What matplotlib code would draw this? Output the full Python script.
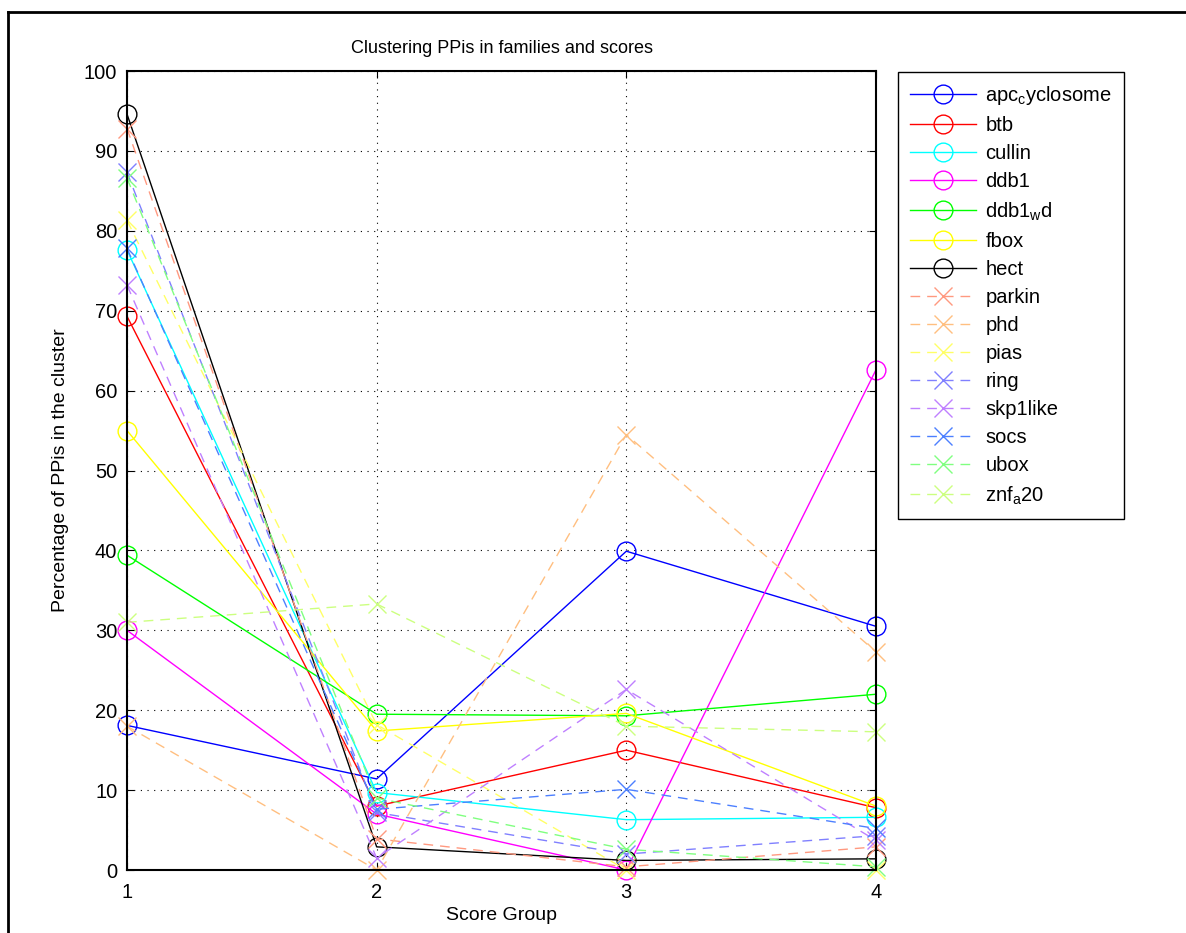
import numpy as np
import matplotlib.pyplot as plt
from matplotlib.lines import Line2D

plt.rcParams['font.family'] = ['Liberation Sans', 'DejaVu Sans']
plt.rcParams['mathtext.default'] = 'regular'

score_groups = [1, 2, 3, 4]

apc_cyclosome = [18.1, 11.4, 39.9, 30.5]
btb = [69.3, 8.0, 15.0, 7.8]
cullin = [77.6, 9.7, 6.3, 6.6]
ddb1 = [30.0, 7.0, 0.0, 62.6]
ddb1_wd = [39.4, 19.5, 19.3, 22.0]
fbox = [55.0, 17.4, 19.6, 8.0]
hect = [94.6, 2.9, 1.2, 1.4]
parkin = [92.8, 3.9, 0.4, 2.9]
phd = [18.0, 0.0, 54.5, 27.3]
pias = [81.3, 18.2, 0.0, 0.0]
ring = [87.3, 7.2, 2.0, 4.3]
skp1like = [73.2, 1.5, 22.6, 3.7]
socs = [77.8, 7.6, 10.1, 5.2]
ubox = [86.6, 9.0, 2.6, 0.4]
znf_a20 = [31.0, 33.3, 18.0, 17.3]

families = [
    ('apc$_c$yclosome', apc_cyclosome, '#0000ff', 'o', '-'),
    ('btb', btb, '#ff0000', 'o', '-'),
    ('cullin', cullin, '#00ffff', 'o', '-'),
    ('ddb1', ddb1, '#ff00ff', 'o', '-'),
    ('ddb1$_w$d', ddb1_wd, '#00ff00', 'o', '-'),
    ('fbox', fbox, '#ffff00', 'o', '-'),
    ('hect', hect, '#000000', 'o', '-'),
    ('parkin', parkin, '#ff9980', 'x', '--'),
    ('phd', phd, '#ffbf80', 'x', '--'),
    ('pias', pias, '#ffff66', 'x', '--'),
    ('ring', ring, '#8080ff', 'x', '--'),
    ('skp1like', skp1like, '#bf80ff', 'x', '--'),
    ('socs', socs, '#4d80ff', 'x', '--'),
    ('ubox', ubox, '#80ff80', 'x', '--'),
    ('znf$_a$20', znf_a20, '#ccff80', 'x', '--'),
]

fig = plt.figure(figsize=(11.86, 9.33), dpi=100)
ax = fig.add_axes([0.1071, 0.0675, 0.6315, 0.8564])

for name, vals, color, marker, ls in families:
    ax.plot(score_groups, vals, color=color, marker=marker, linestyle=ls,
            markersize=13.5, markerfacecolor='none', markeredgewidth=1.0,
            linewidth=1.0, dashes=(7, 5) if ls == '--' else (None, None),
            label=name, clip_on=False)

ax.set_xlim(1, 4)
ax.set_ylim(0, 100)
ax.set_xticks(score_groups)
ax.set_yticks(np.arange(0, 101, 10))
ax.tick_params(direction='in', top=True, right=True, labelsize=14.5, length=5)
ax.tick_params(axis='x', pad=9)
ax.tick_params(axis='y', pad=7)
ax.grid(True, linestyle=(0, (1, 5)), color='black', linewidth=0.8)
for s in ax.spines.values():
    s.set_linewidth(1.5)

ax.set_title('Clustering PPis in families and scores', fontsize=13, pad=13)
ax.set_xlabel('Score Group', fontsize=14, labelpad=4)
ax.set_ylabel('Percentage of PPis in the cluster', fontsize=14, labelpad=11)

leg = ax.legend(loc='upper left', bbox_to_anchor=(0.757, 0.9228),
                bbox_transform=fig.transFigure, fontsize=14.5, numpoints=1,
                handlelength=3.3, labelspacing=0.45, borderpad=0.6,
                handletextpad=0.45, fancybox=False, framealpha=1,
                edgecolor='black', borderaxespad=0)
leg.get_frame().set_linewidth(1.0)

# outer frame of the figure window, cut off on right and bottom
fig.add_artist(Line2D([8 / 1186, 8 / 1186], [-0.1, 1 - 12 / 933],
                      transform=fig.transFigure, color='black', lw=2))
fig.add_artist(Line2D([8 / 1186, 1.1], [1 - 12 / 933, 1 - 12 / 933],
                      transform=fig.transFigure, color='black', lw=2))

fig.savefig('out.png', dpi=100)
plt.close(fig)
